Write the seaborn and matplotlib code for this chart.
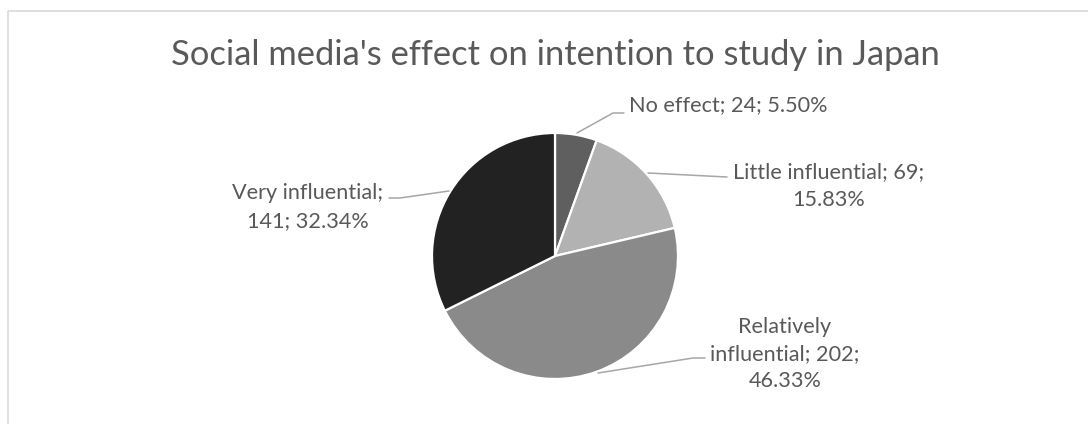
import matplotlib
matplotlib.use("Agg")
import matplotlib.pyplot as plt
import seaborn as sns

categories = ["No effect", "Little influential", "Relatively influential", "Very influential"]
counts = [24, 69, 202, 141]
colors = ["#5f5f5f", "#b2b2b2", "#8a8a8a", "#222222"]
title = "Social media's effect on intention to study in Japan"

sns.set_theme(style="white")
plt.rcParams['font.family'] = ['Lato', 'DejaVu Sans']

W, H = 1088, 424
fig = plt.figure(figsize=(W / 100, H / 100), dpi=100)
fig.patch.set_facecolor("white")
ax = fig.add_axes([0, 0, 1, 1])
ax.set_xlim(0, W)
ax.set_ylim(0, H)
ax.set_aspect("equal")
ax.axis("off")

def Y(y):
    return H - y

# chart border (top and left visible)
ax.plot([8, W], [Y(11), Y(11)], color="#d9d9d9", lw=1.2, solid_capstyle="butt")
ax.plot([8, 8], [Y(11), 0], color="#d9d9d9", lw=1.2, solid_capstyle="butt")

total = sum(counts)
wedges, _ = ax.pie(counts, colors=colors, startangle=90, counterclock=False,
                   center=(555, Y(256)), radius=123,
                   wedgeprops=dict(edgecolor="white", linewidth=1.6))
ax.set_xlim(0, W)
ax.set_ylim(0, H)

txtcol = "#595959"
t = ax.text(555, Y(55), title, ha="center", va="center", color=txtcol, fontsize=22)

labels = [f"{c}; {n}; {n / total * 100:.2f}%" for c, n in zip(categories, counts)]
label_texts = [
    labels[0],
    f"{categories[1]}; {counts[1]};\n{counts[1] / total * 100:.2f}%",
    f"Relatively\ninfluential; {counts[2]};\n{counts[2] / total * 100:.2f}%",
    f"{categories[3]};\n{counts[3]}; {counts[3] / total * 100:.2f}%",
]
label_pos = [(728, 105), (829, 186), (785, 354), (308, 207)]
texts = []
for s, (x, y) in zip(label_texts, label_pos):
    texts.append(ax.text(x, Y(y), s, ha="center", va="center", color=txtcol,
                         fontsize=12, linespacing=1.45, multialignment="center"))

# fit font sizes to the reference widths
fig.canvas.draw()
r = fig.canvas.get_renderer()
def fit(txt, target):
    w = txt.get_window_extent(r).width
    txt.set_fontsize(txt.get_fontsize() * target / w)
fit(t, 765)
fs_ref = texts[0]
w0 = fs_ref.get_window_extent(r).width
scale = 197 / w0
for tx in texts:
    tx.set_fontsize(tx.get_fontsize() * scale)

leaders = [
    [(577, 133), (613, 113), (624, 113)],
    [(648, 173), (727, 177)],
    [(598, 373), (693, 358), (705, 358)],
    [(449, 191), (400, 198), (389, 198)],
]
for pts in leaders:
    ax.plot([p[0] for p in pts], [Y(p[1]) for p in pts], color="#a6a6a6", lw=1.1)

fig.savefig("out.png", dpi=100, facecolor="white")
